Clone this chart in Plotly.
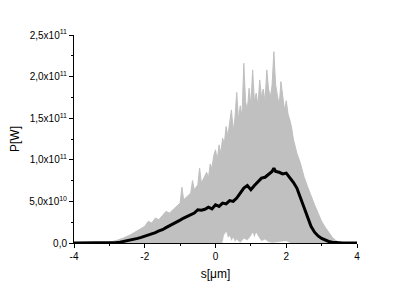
import plotly.graph_objects as go

# Upper envelope of the gray individual shots (units: 1e10 W)
env_x = [-3.2, -3.0, -2.8, -2.6, -2.4, -2.2, -2.0, -1.9, -1.8, -1.7, -1.6, -1.5, -1.4, -1.3, -1.2,
         -1.1, -1.0, -0.95, -0.9, -0.8, -0.7, -0.65, -0.6, -0.5, -0.45, -0.4, -0.3, -0.25, -0.2,
         -0.15, -0.1, -0.05, 0.0, 0.05, 0.1, 0.15, 0.2, 0.25, 0.3, 0.35, 0.4, 0.45, 0.5, 0.55,
         0.6, 0.65, 0.7, 0.75, 0.8, 0.85, 0.9, 0.95, 1.0, 1.05, 1.1, 1.15, 1.2, 1.25, 1.3, 1.35,
         1.4, 1.45, 1.5, 1.55, 1.6, 1.65, 1.7, 1.75, 1.8, 1.85, 1.9, 1.95, 2.0, 2.05, 2.1, 2.15,
         2.2, 2.3, 2.4, 2.5, 2.6, 2.7, 2.8, 2.9, 3.0, 3.1, 3.2, 3.3, 3.4, 3.5, 3.6]
env_y = [0.0, 0.1, 0.3, 0.6, 1.0, 1.5, 2.0, 2.6, 2.4, 3.0, 2.8, 3.3, 3.8, 3.6, 4.0,
         4.3, 4.8, 6.7, 5.2, 5.6, 6.0, 7.5, 6.4, 7.0, 9.0, 7.2, 8.0, 8.5, 7.8,
         9.5, 9.0, 10.5, 11.2, 10.0, 11.8, 10.8, 12.6, 12.0, 14.0, 12.8, 14.5, 16.0, 13.5, 15.0,
         18.1, 14.8, 16.5, 15.2, 21.6, 17.0, 16.0, 18.6, 16.5, 20.8, 17.0, 18.0, 16.5, 19.6, 17.5, 18.5,
         17.0, 20.8, 18.5, 17.5, 19.0, 23.0, 19.0, 17.5, 16.5, 19.4, 17.5, 16.0, 17.1, 15.5, 14.8, 13.9,
         12.5, 10.8, 9.6, 8.0, 6.8, 5.6, 4.6, 3.6, 2.6, 1.9, 1.3, 0.7, 0.3, 0.05, 0.0]

# Lower bound of the gray shots (white gaps near the axis), units 1e10 W
low_x = [0.2, 0.25, 0.3, 0.35, 0.4, 0.45, 0.5, 0.55, 0.6, 0.7, 0.8, 0.9, 1.0, 1.05, 1.1,
         1.15, 1.2, 1.3, 1.4, 1.5, 1.6, 2.0, 2.1]
low_y = [0.0, 1.0, 1.3, 0.6, 0.8, 0.2, 0.6, 0.1, 0.4, 0.0, 0.5, 0.3, 0.8, 1.2, 0.6,
         1.2, 0.8, 0.2, 0.4, 0.1, 0.0, 0.2, 0.0]

# Averaged power (black), units 1e10 W
avg_x = [-4.0, -3.5, -3.0, -2.9, -2.8, -2.7, -2.6, -2.5, -2.4, -2.3, -2.2, -2.1, -2.0, -1.9, -1.8,
         -1.7, -1.6, -1.5, -1.4, -1.3, -1.2, -1.1, -1.0, -0.9, -0.8, -0.7, -0.6, -0.5, -0.4, -0.3,
         -0.2, -0.1, 0.0, 0.1, 0.2, 0.3, 0.4, 0.5, 0.6, 0.7, 0.8, 0.9, 1.0, 1.1, 1.2, 1.3, 1.4,
         1.5, 1.6, 1.65, 1.7, 1.8, 1.9, 2.0, 2.1, 2.2, 2.3, 2.4, 2.5, 2.6, 2.7, 2.8, 2.9, 3.0,
         3.1, 3.2, 3.3, 3.4, 3.5, 3.6, 4.0]
avg_y = [0.0, 0.0, 0.0, 0.02, 0.05, 0.1, 0.18, 0.28, 0.38, 0.42, 0.55, 0.68, 0.8, 0.92, 1.05,
         1.25, 1.45, 1.6, 1.85, 2.05, 2.3, 2.5, 2.75, 3.0, 3.2, 3.4, 3.6, 4.0, 3.95, 4.05,
         4.3, 4.1, 4.6, 4.4, 4.8, 4.7, 5.1, 5.0, 5.4, 6.0, 6.6, 6.9, 6.4, 6.9, 7.3, 7.8, 7.9,
         8.2, 8.6, 9.0, 8.6, 8.5, 8.3, 8.4, 7.9, 7.3, 6.6, 5.4, 4.3, 3.0, 2.0, 1.3, 0.85, 0.55,
         0.32, 0.18, 0.1, 0.05, 0.02, 0.0, 0.0]

y_tick_vals = [0, 5e10, 1e11, 1.5e11, 2e11, 2.5e11]
y_tick_text = ["0,0", "5,0x10<sup>10</sup>", "1,0x10<sup>11</sup>", "1,5x10<sup>11</sup>",
               "2,0x10<sup>11</sup>", "2,5x10<sup>11</sup>"]
x_tick_vals = [-4, -2, 0, 2, 4]

SCALE = 1e10
gray = "rgb(192,192,192)"

fig = go.Figure()
fig.add_trace(go.Scatter(x=env_x, y=[v * SCALE for v in env_y], mode="lines",
                         line=dict(color=gray, width=1), fill="tozeroy", fillcolor=gray,
                         showlegend=False, hoverinfo="skip"))
fig.add_trace(go.Scatter(x=low_x, y=[v * SCALE for v in low_y], mode="lines",
                         line=dict(color="white", width=0.5), fill="tozeroy", fillcolor="white",
                         showlegend=False, hoverinfo="skip"))
fig.add_trace(go.Scatter(x=avg_x, y=[v * SCALE for v in avg_y], mode="lines",
                         line=dict(color="black", width=3), showlegend=False))

font = dict(family="Liberation Sans, Arial, sans-serif", size=10, color="black")
# page body has an 8px margin, so the figure is offset by 8px right and down
fig.update_layout(
    width=407, height=284,
    margin=dict(l=66, r=58, t=27, b=49, autoexpand=False),
    paper_bgcolor="white", plot_bgcolor="white",
    font=font,
    xaxis=dict(range=[-4, 4], tickvals=x_tick_vals, ticktext=[str(v) for v in x_tick_vals],
               showgrid=False, zeroline=False, showline=True, linecolor="black", linewidth=1,
               ticks="outside", ticklen=4, tickcolor="black",
               minor=dict(dtick=1, tick0=-4, ticks="outside", ticklen=2, tickcolor="black"),
               title=dict(text="s[μm]", font=dict(size=12), standoff=8), automargin=False),
    yaxis=dict(range=[0, 2.5e11], tickvals=y_tick_vals, ticktext=y_tick_text,
               showgrid=False, zeroline=False, showline=True, linecolor="black", linewidth=1,
               ticks="outside", ticklen=4, tickcolor="black",
               minor=dict(dtick=2.5e10, tick0=0, ticks="outside", ticklen=2, tickcolor="black"),
               title=dict(text="P[W]", font=dict(size=12), standoff=8), automargin=False),
)
fig.write_html("out.html")
